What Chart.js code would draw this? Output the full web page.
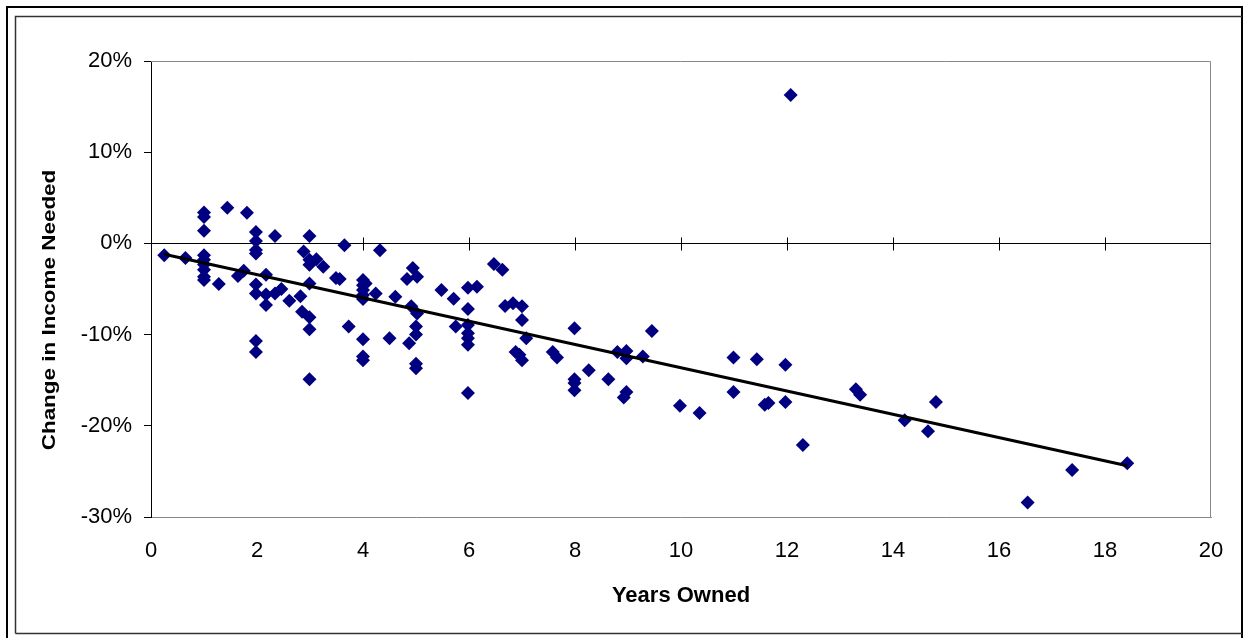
<!DOCTYPE html>
<html>
<head>
<meta charset="utf-8">
<script src="https://cdn.jsdelivr.net/npm/chart.js@4.4.1/dist/chart.umd.min.js"></script>
<style>
  html, body { margin: 0; padding: 0; background: #fff; }
  canvas { display: block; }
</style>
</head>
<body>
<canvas id="chart" width="1251" height="638"></canvas>
<script>
// years owned (x) and change in income needed, in % (y)
const yearsOwned = [
  0.25, 0.65, 1.0, 1.0, 1.0, 1.0, 1.0, 1.0, 1.0, 1.0, 1.0, 1.28, 1.44, 1.64, 1.75, 1.81,
  1.98, 1.98, 1.98, 1.98, 1.98, 1.98, 1.98, 1.98, 2.17, 2.17, 2.17, 2.34, 2.34, 2.46, 2.61,
  2.82, 2.85, 2.88, 2.99, 2.99, 2.99, 2.99, 2.99, 2.99, 2.99, 3.12, 3.25, 3.49, 3.56, 3.65,
  3.73, 4.0, 4.0, 4.05, 4.0, 4.0, 4.0, 4.0, 4.0, 4.0, 4.24, 4.32, 4.5, 4.61, 4.83, 4.87,
  4.91, 4.94, 5.02, 5.02, 5.0, 5.0, 5.0, 5.0, 5.48, 5.71, 5.75, 5.98, 5.98, 5.98, 5.98,
  5.98, 5.98, 5.98, 6.15, 6.47, 6.63, 6.68, 6.83, 7.0, 7.0, 7.08, 6.88, 6.95, 7.0, 7.58,
  7.66, 7.99, 7.99, 7.99, 7.99, 8.26, 8.63, 8.8, 8.97, 8.97, 8.97, 8.92, 9.28, 9.45, 9.98,
  10.35, 10.99, 10.99, 11.43, 11.58, 11.65, 11.97, 11.97, 12.07, 12.3, 13.3, 13.38, 14.22,
  14.66, 14.81, 16.54, 17.38, 18.42
];
const incomeChange = [
  -1.3, -1.6, 3.4, 2.9, 1.4, -1.3, -1.8, -2.3, -2.9, -3.65, -4.0, -4.45, 3.9, -3.57, -3.0, 3.37,
  1.25, 0.25, -0.72, -1.1, -4.5, -5.5, -10.7, -11.9, -3.45, -5.6, -6.75, 0.81, -5.5, -5.0, -6.3,
  -5.8, -7.5, -0.9, 0.81, -1.8, -2.35, -4.4, -8.1, -9.4, -14.9, -1.74, -2.55, -3.8, -3.9, -0.2,
  -9.1, -4.0, -4.6, -4.4, -5.1, -5.65, -6.1, -10.5, -12.4, -12.8, -5.5, -0.76, -10.4, -5.85, -3.9, -10.95,
  -6.9, -2.7, -3.65, -7.7, -9.1, -10.0, -13.2, -13.7, -5.1, -6.06, -9.1, -4.86, -7.2, -8.95, -9.86,
  -10.4, -11.1, -16.4, -4.75, -2.26, -2.9, -6.86, -6.57, -6.9, -8.4, -10.4, -11.9, -12.2, -12.8, -11.9,
  -12.5, -9.3, -14.9, -15.3, -16.1, -13.9, -14.9, -11.9, -11.8, -12.6, -16.3, -16.9, -12.4, -9.6, -17.8,
  -18.6, -12.5, -16.3, -12.7, -17.7, -17.5, -13.3, -17.4, 16.27, -22.1, -16.0, -16.6, -19.4,
  -20.6, -17.4, -28.4, -24.85, -24.1
];

const yTicks = [-30, -20, -10, 0, 10, 20];
const xTicks = [0, 2, 4, 6, 8, 10, 12, 14, 16, 18, 20];

const points = yearsOwned.map((x, i) => ({ x, y: incomeChange[i] }));

// linear trendline (least squares) over the data range
function trendline(xs, ys) {
  const n = xs.length;
  const mx = xs.reduce((a, b) => a + b, 0) / n;
  const my = ys.reduce((a, b) => a + b, 0) / n;
  let sxy = 0, sxx = 0;
  xs.forEach((x, i) => { sxy += (x - mx) * (ys[i] - my); sxx += (x - mx) * (x - mx); });
  const slope = sxy / sxx;
  const icpt = my - slope * mx;
  const x0 = Math.min(...xs), x1 = Math.max(...xs);
  return [{ x: x0, y: icpt + slope * x0 }, { x: x1, y: icpt + slope * x1 }];
}

const FONT = '"Liberation Sans", Arial, sans-serif';

const framePlugin = {
  id: 'frame',
  beforeDraw(chart) {
    const ctx = chart.ctx;
    ctx.save();
    ctx.fillStyle = '#fff';
    ctx.fillRect(0, 0, chart.width, chart.height);
    // outer frame
    ctx.strokeStyle = '#000';
    ctx.lineWidth = 2;
    ctx.beginPath();
    ctx.moveTo(7, 640); ctx.lineTo(7, 7); ctx.lineTo(1242, 7); ctx.lineTo(1242, 640);
    ctx.stroke();
    // inner frame
    ctx.strokeStyle = '#333';
    ctx.lineWidth = 1.5;
    ctx.beginPath();
    ctx.moveTo(15.5, 633.5); ctx.lineTo(15.5, 16.5); ctx.lineTo(1242, 16.5);
    ctx.moveTo(15.5, 633.5); ctx.lineTo(1242, 633.5);
    ctx.stroke();
    ctx.restore();
  },
  beforeDatasetsDraw(chart) {
    const ctx = chart.ctx;
    const a = chart.chartArea;
    const xs = chart.scales.x, ys = chart.scales.y;
    ctx.save();
    // top and right plot border
    ctx.strokeStyle = '#888';
    ctx.lineWidth = 1;
    ctx.beginPath();
    ctx.moveTo(a.left, a.top + 0.5); ctx.lineTo(a.right - 0.5, a.top + 0.5); ctx.lineTo(a.right - 0.5, a.bottom);
    ctx.stroke();
    // horizontal axis crossing at 0%
    const y0 = Math.round(ys.getPixelForValue(0)) + 0.5;
    ctx.strokeStyle = '#000';
    ctx.beginPath();
    ctx.moveTo(a.left, y0); ctx.lineTo(a.right, y0);
    xTicks.slice(1, -1).forEach(v => {
      const px = Math.round(xs.getPixelForValue(v)) + 0.5;
      ctx.moveTo(px, y0 - 6); ctx.lineTo(px, y0 + 7);
    });
    ctx.stroke();
    ctx.restore();
  },
  afterDraw(chart) {
    const ctx = chart.ctx;
    ctx.save();
    ctx.fillStyle = '#000';
    ctx.font = 'bold 22px ' + FONT;
    ctx.textAlign = 'center';
    ctx.textBaseline = 'middle';
    ctx.fillText('Years Owned', 681, 596);
    ctx.translate(50, 310);
    ctx.rotate(-Math.PI / 2);
    ctx.scale(1.02, 0.8);
    ctx.fillText('Change in Income Needed', 0, 0);
    ctx.restore();
  }
};

new Chart(document.getElementById('chart'), {
  type: 'scatter',
  data: {
    datasets: [{
      type: 'line',
      label: 'Trend',
      data: trendline(yearsOwned, incomeChange),
      borderColor: '#000',
      borderWidth: 3,
      pointRadius: 0,
      fill: false
    }, {
      label: 'Change in Income Needed',
      data: points,
      pointStyle: 'rectRot',
      pointRadius: 7,
      pointBackgroundColor: '#000080',
      pointBorderColor: '#000080',
      pointBorderWidth: 0
    }]
  },
  options: {
    responsive: false,
    animation: false,
    layout: { padding: { top: 61, right: 40, left: 0, bottom: 0 } },
    plugins: {
      legend: { display: false },
      tooltip: { enabled: false }
    },
    scales: {
      x: {
        type: 'linear',
        min: 0,
        max: 20,
        afterFit(s) { s.height = 121; },
        afterBuildTicks(s) { s.ticks = xTicks.map(v => ({ value: v })); },
        grid: { display: false, drawTicks: false },
        border: { display: true, color: '#888', width: 1 },
        ticks: { padding: 21, color: '#000', font: { family: FONT, size: 22 } }
      },
      y: {
        min: -30,
        max: 20,
        afterFit(s) { s.width = 151; },
        afterBuildTicks(s) { s.ticks = yTicks.map(v => ({ value: v })); },
        grid: { drawOnChartArea: false, drawTicks: true, tickLength: 7, color: '#000' },
        border: { display: true, color: '#000', width: 1 },
        ticks: {
          padding: 12,
          color: '#000',
          font: { family: FONT, size: 22 },
          callback: v => v + '%'
        }
      }
    }
  },
  plugins: [framePlugin]
});
</script>
</body>
</html>
